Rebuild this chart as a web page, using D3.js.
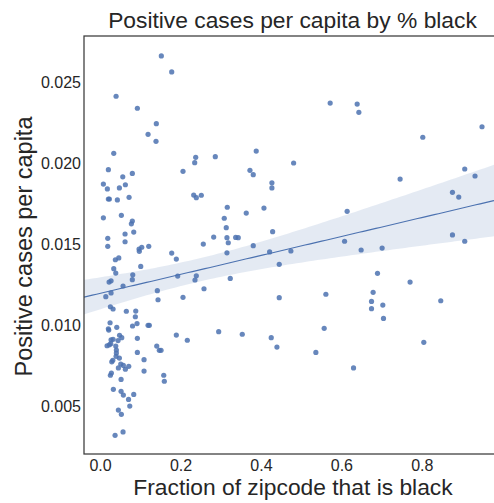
<!DOCTYPE html>
<html>
<head>
<meta charset="utf-8">
<script src="https://cdn.jsdelivr.net/npm/d3@7"></script>
<style>
  html, body { margin: 0; padding: 0; background: #fff; }
  svg { display: block; font-family: "Liberation Sans", Arial, sans-serif; }
</style>
</head>
<body>
<svg id="chart" width="494" height="503"></svg>
<script>
// Fraction of each zipcode's population that is black
const fracBlack = [
  0.1523, 0.1781, 0.0398, 0.0927, 0.1399, 0.1193, 0.1391, 0.0340, 0.3883, 0.2378,
  0.2865, 0.2353, 0.0206, 0.2062, 0.3727, 0.3809, 0.0802, 0.0564, 0.0082, 0.0629,
  0.0181, 0.0480, 0.0206, 0.0231, 0.0430, 0.0721, 0.2328, 0.2393, 0.2517, 0.3163,
  0.3635, 0.0082, 0.0529, 0.0802, 0.0778, 0.3088, 0.3138, 0.0621, 0.0837, 0.0191,
  0.0621, 0.2825, 0.3155, 0.3372, 0.3436, 0.2567, 0.3188, 0.3809, 0.0191, 0.0969,
  0.0976, 0.1036, 0.1210, 0.5722, 0.6393, 0.6435, 0.9498, 0.8025, 0.4813, 0.4273,
  0.4273, 0.9068, 0.9324, 0.7461, 0.4075, 0.6144, 0.8763, 0.8919, 0.4291, 0.8763,
  0.9068, 0.6080, 0.6492, 0.7014, 0.3155, 0.4216, 0.4745, 0.4455, 0.6899, 0.7709,
  0.6790, 0.4455, 0.5615, 0.6750, 0.7031, 0.6750, 0.7048, 0.8472, 0.5573, 0.4256,
  0.4398, 0.5366, 0.8050, 0.6303, 0.1781, 0.1896, 0.1930, 0.2393, 0.2360, 0.2584,
  0.1424, 0.1441, 0.2062, 0.2949, 0.3536, 0.1896, 0.2169, 0.1409, 0.1473, 0.1516,
  0.1583, 0.1598, 0.1093, 0.1093, 0.3237, 0.0380, 0.0465, 0.0340, 0.0390, 0.1011,
  0.0812, 0.0802, 0.0224, 0.0273, 0.0571, 0.0273, 0.0142, 0.0256, 0.0323, 0.0653,
  0.0887, 0.0877, 0.0919, 0.0807, 0.1193, 0.1225, 0.0248, 0.0206, 0.0216, 0.0415,
  0.0484, 0.0539, 0.0447, 0.0273, 0.0323, 0.0927, 0.0174, 0.0231, 0.0266, 0.0390,
  0.0405, 0.0405, 0.0398, 0.0480, 0.0927, 0.0291, 0.0316, 0.0514, 0.0579, 0.0455,
  0.0629, 0.0713, 0.0256, 0.0281, 0.0522, 0.0330, 0.0522, 0.0579, 0.0837, 0.0708,
  0.0738, 0.0455, 0.0529, 0.0571, 0.0373
];

// Positive cases per capita in the same zipcodes
const casesPerCapita = [
  0.02661, 0.02562, 0.02412, 0.02338, 0.02243, 0.02177, 0.02134, 0.02060, 0.02074, 0.02035,
  0.02039, 0.02002, 0.01959, 0.01949, 0.01955, 0.01928, 0.01936, 0.01915, 0.01870, 0.01866,
  0.01840, 0.01846, 0.01778, 0.01778, 0.01772, 0.01788, 0.01802, 0.01786, 0.01801, 0.01727,
  0.01691, 0.01662, 0.01677, 0.01642, 0.01625, 0.01659, 0.01601, 0.01562, 0.01574, 0.01535,
  0.01514, 0.01543, 0.01539, 0.01541, 0.01539, 0.01500, 0.01508, 0.01490, 0.01486, 0.01469,
  0.01455, 0.01480, 0.01486, 0.02370, 0.02364, 0.02313, 0.02224, 0.02159, 0.02000, 0.01878,
  0.01846, 0.01963, 0.01920, 0.01901, 0.01722, 0.01702, 0.01819, 0.01790, 0.01576, 0.01556,
  0.01517, 0.01517, 0.01463, 0.01475, 0.01446, 0.01451, 0.01457, 0.01375, 0.01319, 0.01265,
  0.01202, 0.01169, 0.01190, 0.01146, 0.01123, 0.01101, 0.01041, 0.01150, 0.00980, 0.00922,
  0.00864, 0.00831, 0.00893, 0.00735, 0.01444, 0.01407, 0.01302, 0.01304, 0.01278, 0.01224,
  0.01212, 0.01156, 0.01171, 0.00959, 0.00943, 0.00938, 0.00906, 0.00870, 0.00844, 0.00844,
  0.00690, 0.00653, 0.00786, 0.00716, 0.01288, 0.01403, 0.01414, 0.01348, 0.01321, 0.01362,
  0.01310, 0.01280, 0.01265, 0.01273, 0.01241, 0.01198, 0.01175, 0.01113, 0.01099, 0.01085,
  0.01086, 0.01051, 0.01009, 0.00994, 0.00998, 0.00998, 0.01014, 0.00977, 0.00969, 0.00986,
  0.00937, 0.00922, 0.00904, 0.00909, 0.00912, 0.00918, 0.00872, 0.00878, 0.00885, 0.00870,
  0.00846, 0.00827, 0.00807, 0.00796, 0.00831, 0.00773, 0.00782, 0.00759, 0.00751, 0.00735,
  0.00727, 0.00745, 0.00690, 0.00704, 0.00664, 0.00603, 0.00591, 0.00568, 0.00572, 0.00541,
  0.00500, 0.00475, 0.00449, 0.00340, 0.00319
];

const xTicks = [0.0, 0.2, 0.4, 0.6, 0.8];
const yTicks = [0.005, 0.010, 0.015, 0.020, 0.025];

const titleText = "Positive cases per capita by % black";
const xLabelText = "Fraction of zipcode that is black";
const yLabelText = "Positive cases per capita";

const svg = d3.select("#chart");
const plot = { left: 84, top: 36, right: 501, bottom: 454 };

const x = d3.scaleLinear().domain([-0.04, 0.997]).range([plot.left, plot.right]);
const y = d3.scaleLinear().domain([0.00204, 0.02784]).range([plot.bottom, plot.top]);

const pts = fracBlack.map((v, i) => ({ x: v, y: casesPerCapita[i] }));

// Ordinary least squares fit with a 95% confidence band for the mean
const n = pts.length;
const xbar = d3.mean(pts, d => d.x);
const ybar = d3.mean(pts, d => d.y);
const sxx = d3.sum(pts, d => (d.x - xbar) ** 2);
const sxy = d3.sum(pts, d => (d.x - xbar) * (d.y - ybar));
const slope = sxy / sxx;
const intercept = ybar - slope * xbar;
const resid = d3.sum(pts, d => (d.y - (intercept + slope * d.x)) ** 2);
const s = Math.sqrt(resid / (n - 2));
const tCrit = 1.974;

const grid = d3.range(0, 101).map(i => x.domain()[0] + (x.domain()[1] - x.domain()[0]) * i / 100);
const fit = grid.map(gx => {
  const yh = intercept + slope * gx;
  const se = s * Math.sqrt(1 / n + (gx - xbar) ** 2 / sxx);
  return { x: gx, y: yh, lo: yh - tCrit * se, hi: yh + tCrit * se };
});

svg.append("defs").append("clipPath").attr("id", "plotClip")
  .append("rect")
  .attr("x", plot.left).attr("y", plot.top)
  .attr("width", plot.right - plot.left).attr("height", plot.bottom - plot.top);

const g = svg.append("g").attr("clip-path", "url(#plotClip)");

const color = "#4c72b0";

g.selectAll("circle").data(pts).enter().append("circle")
  .attr("cx", d => x(d.x))
  .attr("cy", d => y(d.y))
  .attr("r", 2.6)
  .attr("fill", color)
  .attr("fill-opacity", 0.85);

g.append("path").datum(fit)
  .attr("d", d3.area().x(d => x(d.x)).y0(d => y(d.lo)).y1(d => y(d.hi)))
  .attr("fill", color)
  .attr("fill-opacity", 0.15);

g.append("path").datum(fit)
  .attr("d", d3.line().x(d => x(d.x)).y(d => y(d.y)))
  .attr("fill", "none")
  .attr("stroke", color)
  .attr("stroke-width", 1.1);

// Frame
svg.append("rect")
  .attr("x", plot.left).attr("y", plot.top)
  .attr("width", plot.right - plot.left).attr("height", plot.bottom - plot.top)
  .attr("fill", "none")
  .attr("stroke", "#3a3a3a")
  .attr("stroke-width", 1.25);

// Axes (labels only, no tick marks)
const xAxis = d3.axisBottom(x).tickValues(xTicks).tickFormat(d3.format(".1f")).tickSize(0).tickPadding(6);
const yAxis = d3.axisLeft(y).tickValues(yTicks).tickFormat(d3.format(".3f")).tickSize(0).tickPadding(3);

const gx = svg.append("g").attr("transform", `translate(0,${plot.bottom})`).call(xAxis);
const gy = svg.append("g").attr("transform", `translate(${plot.left},0)`).call(yAxis);
[gx, gy].forEach(a => {
  a.select(".domain").remove();
  a.selectAll("text")
    .attr("fill", "#262626")
    .style("font-family", '"Liberation Sans", Arial, sans-serif')
    .style("font-size", "16px");
});

svg.append("text")
  .attr("x", 292.5).attr("y", 27.5)
  .attr("text-anchor", "middle")
  .attr("fill", "#262626")
  .style("font-size", "22.8px")
  .text(titleText);

svg.append("text")
  .attr("x", 293).attr("y", 495)
  .attr("text-anchor", "middle")
  .attr("fill", "#262626")
  .style("font-size", "22.8px")
  .text(xLabelText);

svg.append("text")
  .attr("transform", `translate(31.5,246.5) rotate(-90)`)
  .attr("text-anchor", "middle")
  .attr("fill", "#262626")
  .style("font-size", "23.5px")
  .text(yLabelText);
</script>
</body>
</html>
